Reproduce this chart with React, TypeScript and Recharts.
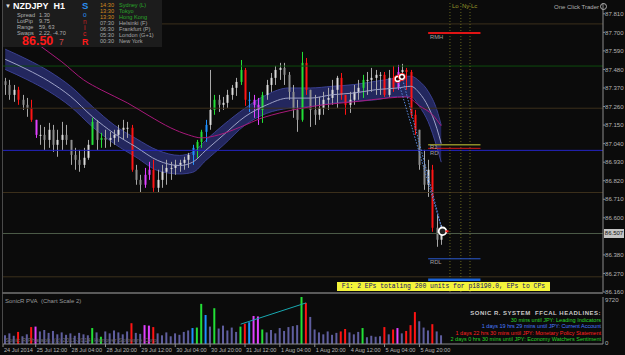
import { Area, Bar, Cell, ComposedChart, Line, ReferenceLine, Scatter, XAxis, YAxis } from 'recharts'

// NZDJPY H1, one candle per 2 hours (24 Jul 21:00 -> 6 Aug 05:00)
const candleHigh = [
  87.43, 87.418, 87.388, 87.377, 87.329, 87.311, 87.3, 87.181, 87.151, 87.139,
  87.163, 87.151, 87.122, 87.169, 87.151, 87.062, 87.015, 87.003, 87.015, 87.062,
  87.193, 87.18, 87.104, 87.122, 87.11, 87.122, 87.151, 87.181, 87.169, 87.151,
  86.914, 86.855, 86.896, 86.932, 86.944, 86.885, 86.914, 86.944, 86.932, 86.944,
  86.944, 86.962, 86.985, 87.033, 87.062, 87.122, 87.181, 87.477, 87.329, 87.329,
  87.317, 87.359, 87.388, 87.43, 87.536, 87.489, 87.347, 87.329, 87.311, 87.347,
  87.418, 87.459, 87.501, 87.519, 87.519, 87.465, 87.388, 87.3, 87.584, 87.548,
  87.359, 87.329, 87.317, 87.347, 87.371, 87.418, 87.442, 87.459, 87.329, 87.347,
  87.388, 87.418, 87.448, 87.465, 87.489, 87.477, 87.465, 87.465, 87.477, 87.501,
  87.507, 87.513, 87.489, 87.477, 87.24, 87.122, 87.003, 86.944, 86.914, 86.618,
  86.558,
]
const candleLow = [
  87.329, 87.3, 87.288, 87.27, 87.24, 87.199, 87.169, 87.074, 87.033, 87.003,
  87.015, 86.991, 86.962, 87.003, 87.033, 86.914, 86.885, 86.873, 86.896, 86.944,
  87.033, 87.003, 87.015, 87.015, 87.021, 87.033, 87.05, 87.062, 87.074, 86.873,
  86.796, 86.748, 86.778, 86.825, 86.754, 86.748, 86.778, 86.796, 86.825, 86.855,
  86.873, 86.885, 86.896, 86.914, 86.956, 87.015, 87.05, 87.122, 87.211, 87.228,
  87.24, 87.252, 87.3, 87.323, 87.388, 87.264, 87.228, 87.193, 87.151, 87.163,
  87.3, 87.347, 87.388, 87.418, 87.388, 87.3, 87.193, 87.11, 87.17, 87.329,
  87.139, 87.151, 87.181, 87.211, 87.24, 87.27, 87.252, 87.3, 87.211, 87.222,
  87.27, 87.3, 87.311, 87.329, 87.347, 87.329, 87.329, 87.317, 87.317, 87.347,
  87.359, 87.418, 87.359, 87.193, 87.092, 86.885, 86.766, 86.724, 86.517, 86.428,
  86.44,
]
const candleClose = [
  87.388, 87.329, 87.359, 87.3, 87.27, 87.252, 87.181, 87.092, 87.092, 87.062,
  87.122, 87.033, 87.062, 87.092, 87.062, 86.973, 86.944, 86.914, 86.956, 87.033,
  87.169, 87.062, 87.074, 87.062, 87.074, 87.092, 87.122, 87.134, 87.134, 86.885,
  86.825, 86.796, 86.855, 86.885, 86.778, 86.825, 86.873, 86.896, 86.896, 86.914,
  86.926, 86.944, 86.973, 87.015, 87.05, 87.11, 87.151, 87.24, 87.3, 87.27,
  87.282, 87.329, 87.371, 87.406, 87.477, 87.3, 87.3, 87.27, 87.24, 87.329,
  87.388, 87.43, 87.477, 87.489, 87.448, 87.347, 87.24, 87.181, 87.519, 87.359,
  87.24, 87.211, 87.252, 87.3, 87.311, 87.359, 87.43, 87.329, 87.27, 87.3,
  87.347, 87.371, 87.418, 87.418, 87.43, 87.448, 87.448, 87.329, 87.43, 87.371,
  87.465, 87.477, 87.465, 87.211, 87.122, 86.914, 86.796, 86.885, 86.541, 86.47,
  86.507,
]
const firstOpen = 87.41

// SonicR PVA class per candle: n normal, r/g climax, b/m rising volume
const pvaType = (
  'nnnrnnrmnn' + 'nnnnnnnnnn' + 'gngnnnnnnr' + 'nnmmrnnnnn' + 'nnnbggbngn' +
  'nnnngrbmmg' + 'nnnnnnnngr' + 'nnnnnnnrrn' + 'nngnnnnrnr' + 'mnrrrnnnrn' + 'n'
).split('')

const volume = [
  1800, 2200, 1700, 2500, 1600, 2000, 3500, 3600, 2600, 2900,
  2300, 2700, 2000, 2400, 1900, 2200, 1700, 2300, 2000, 1800,
  3300, 2400, 1500, 2600, 2200, 2800, 2400, 2000, 2600, 4300,
  2300, 2100, 3900, 3800, 3500, 2200, 1800, 2400, 1600, 2200,
  1900, 2500, 2800, 3300, 3400, 8300, 6000, 3600, 7400, 3200,
  3800, 2800, 3400, 2500, 3600, 4200, 4500, 5800, 5700, 3000,
  2400, 2900, 2200, 3300, 2700, 3500, 3700, 3900, 9720, 8500,
  5600, 3000, 2400, 2000, 2600, 1900, 2300, 2600, 3100, 2400,
  2000, 2500, 3300, 1400, 1700, 1500, 1600, 3500, 2000, 3000,
  3300, 2200, 2700, 3900, 6600, 4700, 3400, 2800, 4100, 2600,
  1800,
]

const dateTickIdx = [0, 7, 15, 23, 31, 39, 47, 55, 63, 71, 79, 87, 95]
const dateTickLabels = [
  '24 Jul 2014', '25 Jul 12:00', '28 Jul 04:00', '28 Jul 20:00', '29 Jul 12:00',
  '30 Jul 04:00', '30 Jul 20:00', '31 Jul 12:00', '1 Aug 04:00', '1 Aug 20:00',
  '4 Aug 12:00', '5 Aug 04:00', '5 Aug 20:00',
]
const priceTicks = [86.16, 86.27, 86.38, 86.6, 86.71, 86.82, 86.93, 87.04, 87.15, 87.26, 87.37, 87.48, 87.59, 87.7, 87.81]

// Sonic R dragon band, read every few candles
const bandIdx = [0, 5, 10, 15, 20, 25, 30, 35, 40, 43, 46, 50, 55, 60, 65, 70, 75, 80, 85, 90, 93, 95, 97, 99, 100]
const bandHigh = [87.6, 87.54, 87.47, 87.38, 87.26, 87.15, 87.07, 87.0, 86.97, 86.99, 87.06, 87.15, 87.25, 87.33, 87.37, 87.37, 87.38, 87.39, 87.41, 87.43, 87.44, 87.41, 87.35, 87.24, 87.15]
const bandLow = [87.48, 87.42, 87.35, 87.26, 87.14, 87.04, 86.96, 86.88, 86.86, 86.87, 86.94, 87.03, 87.15, 87.22, 87.25, 87.26, 87.28, 87.29, 87.3, 87.32, 87.32, 87.26, 87.17, 87.02, 86.93]
const bandMid = [87.54, 87.48, 87.41, 87.32, 87.2, 87.1, 87.02, 86.94, 86.91, 86.93, 87.0, 87.09, 87.2, 87.27, 87.31, 87.31, 87.33, 87.34, 87.36, 87.37, 87.38, 87.34, 87.26, 87.13, 87.04]

// slow moving average (magenta)
const maIdx = [4, 8, 13, 18, 22, 28, 33, 38, 42, 45, 49, 54, 59, 63, 73, 80, 88, 92, 95, 98, 100]
const maValue = [87.7, 87.62, 87.525, 87.418, 87.359, 87.282, 87.205, 87.133, 87.092, 87.074, 87.092, 87.139, 87.193, 87.222, 87.27, 87.288, 87.311, 87.317, 87.264, 87.211, 87.145]

const roundLevels = [87.75, 87.25, 86.75, 86.25]
const lastPrice = 86.507

// entries (circles) and the exit point
const entryIdx = [90, 91]
const entryPrice = [87.424, 87.436]
const exitIdx = 100.3
const exitPrice = 86.52

// volume trend line in the PVA panel
const volTrendIdx = [54, 69]
const volTrendValue = [4100, 8500]

const PVA_COLORS: Record<string, string> = { r: '#ff1414', g: '#22e036', b: '#1e90ff', m: '#e040ff' }
const X_DOMAIN: [number, number] = [-0.5, 137.1]
const FONT = '"Liberation Sans", Arial, sans-serif'

const candles = candleClose.map((close, i) => ({
  i,
  open: i === 0 ? firstOpen : candleClose[i - 1],
  high: candleHigh[i],
  low: candleLow[i],
  close,
  range: [candleLow[i], candleHigh[i]],
  pva: pvaType[i],
}))
const vols = volume.map((vol, i) => ({ i, vol, pva: pvaType[i] }))
const bandData = bandIdx.map((i, k) => ({ i, range: [bandLow[k], bandHigh[k]], mid: bandMid[k] }))
const maData = maIdx.map((i, k) => ({ i, v: maValue[k] }))
const entries = entryIdx.map((i, k) => ({ i, p: entryPrice[k] }))
const tradeLines = entryIdx.map((i, k) => [{ i, p: entryPrice[k] }, { i: exitIdx, p: exitPrice }])
const volTrend = volTrendIdx.map((i, k) => ({ i, vol: volTrendValue[k] }))

function Candle(props: any) {
  const { x, y, width, height, payload } = props
  if (!payload || y == null) return null
  const top = Math.min(y, y + height)
  const h = Math.abs(height)
  const { open, close, high, low, pva } = payload
  const span = high - low || 1
  const cx = Math.round(x + width / 2) + 0.5
  const bTop = top + ((high - Math.max(open, close)) / span) * h
  const bBot = top + ((high - Math.min(open, close)) / span) * h
  const color = pva === 'n' ? (close >= open ? '#dcdcdc' : '#8e8e8e') : PVA_COLORS[pva]
  return (
    <g>
      <line x1={cx} x2={cx} y1={top} y2={top + h} stroke={pva === 'n' ? '#a8a8a8' : color} />
      <rect x={cx - 1} y={bTop} width={2} height={Math.max(1, bBot - bTop)} fill={color} />
    </g>
  )
}

function EntryMark(props: any) {
  const { cx, cy } = props
  return (
    <g>
      <circle cx={cx} cy={cy} r={3.6} fill="none" stroke="#ff2020" strokeWidth={1} />
      <circle cx={cx} cy={cy} r={2.4} fill="#200" stroke="#fff" strokeWidth={1.4} />
    </g>
  )
}

function ExitMark(props: any) {
  const { cx, cy } = props
  return (
    <g>
      <circle cx={cx} cy={cy} r={3.8} fill="#222" stroke="#fff" strokeWidth={1.8} />
      <rect x={cx + 3} y={cy - 1} width={3} height={2} fill="#ff2020" />
    </g>
  )
}

function PriceTick({ x, y, payload }: any) {
  return (
    <g>
      <line x1={x - 2} x2={x} y1={y} y2={y} stroke="#8c8c8c" />
      <text x={x} y={y + 2.2} fontSize={6.1} fill="#b4b4b4" fontFamily={FONT}>
        {payload.value.toFixed(3)}
      </text>
    </g>
  )
}

function VolTick({ x, y, payload }: any) {
  // the top label sits just inside the panel, the zero label just above the axis
  const dy = payload.value > 0 ? 5 : 1
  return (
    <text x={x} y={y + dy} fontSize={6.1} fill="#b4b4b4" fontFamily={FONT}>
      {payload.value}
    </text>
  )
}

function DateTick({ x, y, payload }: any) {
  const k = dateTickIdx.indexOf(payload.value)
  const tx = k === 0 ? 3 : x
  return (
    <g>
      <line x1={tx} x2={tx} y1={y - 3} y2={y} stroke="#8c8c8c" />
      <text x={tx + 1} y={y + 5} fontSize={5.6} fill="#b4b4b4" fontFamily={FONT}>
        {dateTickLabels[k]}
      </text>
    </g>
  )
}

function T({ x, y, c = '#b0b0b0', s = 6, w = 400, ls, children, right }: any) {
  const pos = right != null ? { right } : { left: x }
  return (
    <div
      style={{
        position: 'absolute', top: y, ...pos, color: c, fontSize: s, fontWeight: w, letterSpacing: ls,
        lineHeight: 1, whiteSpace: 'nowrap', fontFamily: FONT,
      }}
    >
      {children}
    </div>
  )
}

const sessions = [
  ['14:30', 'Sydney  (L)', '#d58a1e', '#2aa62a'],
  ['13:30', 'Tokyo', '#d58a1e', '#2aa62a'],
  ['13:30', 'Hong Kong', '#d58a1e', '#2aa62a'],
  ['07:30', 'Helsinki  (F)', '#a8a8a8', '#a8a8a8'],
  ['06:30', 'Frankfurt  (P)', '#a8a8a8', '#a8a8a8'],
  ['05:30', 'London  (G+1)', '#a8a8a8', '#a8a8a8'],
  ['00:30', 'New York', '#a8a8a8', '#a8a8a8'],
]

const headlines = [
  ['30 mins until JPY: Leading Indicators', '#2ad42a'],
  ['1 days 19 hrs 29 mins until JPY: Current Account', '#4a7cff'],
  ['1 days 22 hrs 30 mins until JPY: Monetary Policy Statement', '#ff2020'],
  ['2 days 0 hrs 30 mins until JPY: Economy Watchers Sentiment', '#2ad42a'],
]

export default function App() {
  return (
    <div style={{ position: 'fixed', left: 0, top: 0, width: 625, height: 355, background: '#0b0b0b', overflow: 'hidden' }}>
      <div style={{ position: 'absolute', left: 0, top: 0 }}>
        <ComposedChart width={625} height={295} data={candles} margin={{ top: 3, right: 0, bottom: 3, left: 3 }}>
          <XAxis type="number" dataKey="i" domain={X_DOMAIN} allowDataOverflow hide />
          <YAxis
            orientation="right"
            type="number"
            domain={[86.16, 87.874]}
            allowDataOverflow
            ticks={priceTicks}
            interval={0}
            width={22}
            tickSize={2}
            tickMargin={0}
            tick={<PriceTick />}
            tickLine={false}
            axisLine={{ stroke: '#8c8c8c' }}
          />
          {roundLevels.map(v => (
            <ReferenceLine key={v} y={v} stroke="#3c301c" />
          ))}
          <ReferenceLine y={87.5} stroke="#0e4c0e" />
          <ReferenceLine y={87.0} stroke="#2424c4" />
          <ReferenceLine y={lastPrice} stroke="#4c5c48" />
          <ReferenceLine x={102} stroke="#66661e" strokeDasharray="1 2" />
          <ReferenceLine x={104.5} stroke="#66661e" strokeDasharray="1 2" />
          <ReferenceLine x={106.6} stroke="#66661e" strokeDasharray="1 2" />
          <ReferenceLine segment={[{ x: 97, y: 87.696 }, { x: 109, y: 87.696 }]} stroke="#e01414" strokeWidth={2} />
          <ReferenceLine segment={[{ x: 97, y: 87.033 }, { x: 109, y: 87.033 }]} stroke="#8c8c28" strokeWidth={1.5} />
          <ReferenceLine segment={[{ x: 97, y: 87.012 }, { x: 109, y: 87.012 }]} stroke="#d01818" />
          <ReferenceLine segment={[{ x: 97, y: 86.357 }, { x: 109, y: 86.357 }]} stroke="#2a5ad0" />
          <ReferenceLine segment={[{ x: 97, y: 86.232 }, { x: 109, y: 86.232 }]} stroke="#1c64d8" strokeWidth={2.5} />
          <Area
            data={bandData}
            dataKey="range"
            type="monotone"
            fill="#262a66"
            fillOpacity={0.92}
            stroke="#3a4090"
            strokeWidth={1}
            isAnimationActive={false}
          />
          <Line data={bandData} dataKey="mid" type="monotone" stroke="#9ea2c6" strokeWidth={1} dot={false} isAnimationActive={false} />
          <Line data={maData} dataKey="v" type="monotone" stroke="#a8187a" strokeWidth={1} dot={false} isAnimationActive={false} />
          <Bar dataKey="range" barSize={3} shape={<Candle />} isAnimationActive={false} />
          {tradeLines.map((d, k) => (
            <Line
              key={k}
              data={d}
              dataKey="p"
              stroke="#5a8ae0"
              strokeDasharray="1.5 1.5"
              strokeWidth={1}
              dot={false}
              isAnimationActive={false}
            />
          ))}
          <Scatter data={entries} dataKey="p" shape={<EntryMark />} isAnimationActive={false} />
          <Scatter data={[{ i: exitIdx, p: exitPrice }]} dataKey="p" shape={<ExitMark />} isAnimationActive={false} />
        </ComposedChart>
      </div>

      <div style={{ position: 'absolute', left: 0, top: 293 }}>
        <ComposedChart width={625} height={62} data={vols} margin={{ top: 4, right: 0, bottom: 0, left: 3 }}>
          <XAxis
            type="number"
            dataKey="i"
            domain={X_DOMAIN}
            allowDataOverflow
            ticks={dateTickIdx}
            interval={0}
            height={11}
            tickSize={3}
            tickMargin={0}
            tick={<DateTick />}
            tickLine={false}
            axisLine={{ stroke: '#8c8c8c' }}
          />
          <YAxis
            orientation="right"
            type="number"
            domain={[0, 9720]}
            ticks={[0, 9720]}
            interval={0}
            width={22}
            tickSize={2}
            tickMargin={0}
            tick={<VolTick />}
            tickLine={false}
            axisLine={{ stroke: '#8c8c8c' }}
          />
          <Bar dataKey="vol" barSize={2} isAnimationActive={false}>
            {vols.map((d, k) => (
              <Cell key={k} fill={d.pva === 'n' ? '#5f5e9e' : PVA_COLORS[d.pva]} />
            ))}
          </Bar>
          <Line data={volTrend} dataKey="vol" stroke="#18a8b0" strokeWidth={1} dot={false} isAnimationActive={false} />
        </ComposedChart>
      </div>

      {/* panel frames */}
      <div style={{ position: 'absolute', left: 2, top: 0, width: 1, height: 344, background: '#4a4a4a' }} />
      <div style={{ position: 'absolute', left: 2, top: 292, width: 601, height: 2, background: '#5a5a5a' }} />

      {/* info box */}
      <div style={{ position: 'absolute', left: 3, top: 0, width: 159, height: 47, background: '#1c1c1c' }} />
      <T x={5} y={3} c="#e0e0e0" s={6}>▼</T>
      <T x={13} y={2} c="#ffffff" s={9} w={700}>NZDJPY&nbsp;&nbsp;H1</T>
      {[['Spread', '1.30'], ['LotPip', '9.75'], ['Range', '59, 63'], ['Swaps', '2.22, -4.70']].map(([a, b], k) => (
        <div key={a}>
          <T x={17} y={12.5 + k * 6} s={5.6}>{a}</T>
          <T x={39} y={12.5 + k * 6} s={5.6}>{b}</T>
        </div>
      ))}
      <T x={22} y={35} c="#ff1a1a" s={12.5} w={700}>86.50</T>
      <T x={59} y={38} c="#c84848" s={8.5}>7</T>
      <T x={82} y={1} c="#2a8ff0" s={9.5} w={700}>S</T>
      <T x={83} y={12} c="#2a8ff0" s={6.5}>o</T>
      <T x={83} y={18.5} c="#c02020" s={6.5}>n</T>
      <T x={84} y={25} c="#e02020" s={6.5}>i</T>
      <T x={83} y={30.5} c="#e02020" s={6.5}>c</T>
      <T x={82} y={38} c="#ff1a1a" s={9} w={700}>R</T>
      {sessions.map(([t, n, ct, cn], k) => (
        <div key={n}>
          <T x={100} y={3 + k * 6} c={ct} s={5.6}>{t}</T>
          <T x={119} y={3 + k * 6} c={cn} s={5.6}>{n}</T>
        </div>
      ))}

      {/* top right labels */}
      <T x={452} y={3} c="#9a9a2a" s={6}>Lo</T>
      <T x={462} y={3} c="#9a9a2a" s={6}>Ny</T>
      <T x={471} y={3} c="#9a9a2a" s={6}>Lc</T>
      <T x={554} y={3} c="#b0b0b0" s={6}>
        One Click Trader
        <span style={{ display: 'inline-block', width: 5, height: 5, border: '1px solid #b0b0b0', borderRadius: 4, marginLeft: 1, verticalAlign: -1 }} />
      </T>
      <T x={430} y={35} c="#a0a0a0" s={5.8}>RMH</T>
      <T x={430} y={145} c="#a0a0a0" s={5.8}>R1</T>
      <T x={430} y={151} c="#a0a0a0" s={5.8}>RD</T>
      <T x={430} y={260} c="#a0a0a0" s={5.8}>RDL</T>

      {/* current price tag */}
      <div style={{ position: 'absolute', left: 604, top: 229, width: 20, height: 9, background: '#c4c4c4', color: '#111', fontSize: 6, lineHeight: '9px', fontFamily: FONT, textAlign: 'center' }}>
        86.507
      </div>

      {/* trade comment */}
      <div style={{ position: 'absolute', left: 337, top: 282, width: 213, height: 9, background: '#f4f43a', color: '#10106a', fontSize: 6.4, lineHeight: '9px', fontFamily: '"Liberation Mono", monospace', textAlign: 'center', whiteSpace: 'nowrap', overflow: 'hidden' }}>
        F1: 2 EPs totaling 200 units for p18190.0, EPs to CPs
      </div>

      {/* PVA panel texts */}
      <T x={5} y={298} c="#9a9a9a" s={6}>SonicR PVA&nbsp;&nbsp;(Chart Scale 2)</T>
      <T x={5} y={337} c="#6a6a6a" s={6}>Sonic R Pharaoh, (c) 2011-2014, Hanover Software Corp.</T>
      <T right={24} y={310} c="#c8c8c8" s={6} w={700} ls={0.5}>SONIC R. SYSTEM&nbsp;&nbsp;FFCAL HEADLINES:</T>
      {headlines.map(([t, c], k) => (
        <T key={t} right={24} y={317.5 + k * 6.6} c={c} s={5.5}>{t}</T>
      ))}
    </div>
  )
}
